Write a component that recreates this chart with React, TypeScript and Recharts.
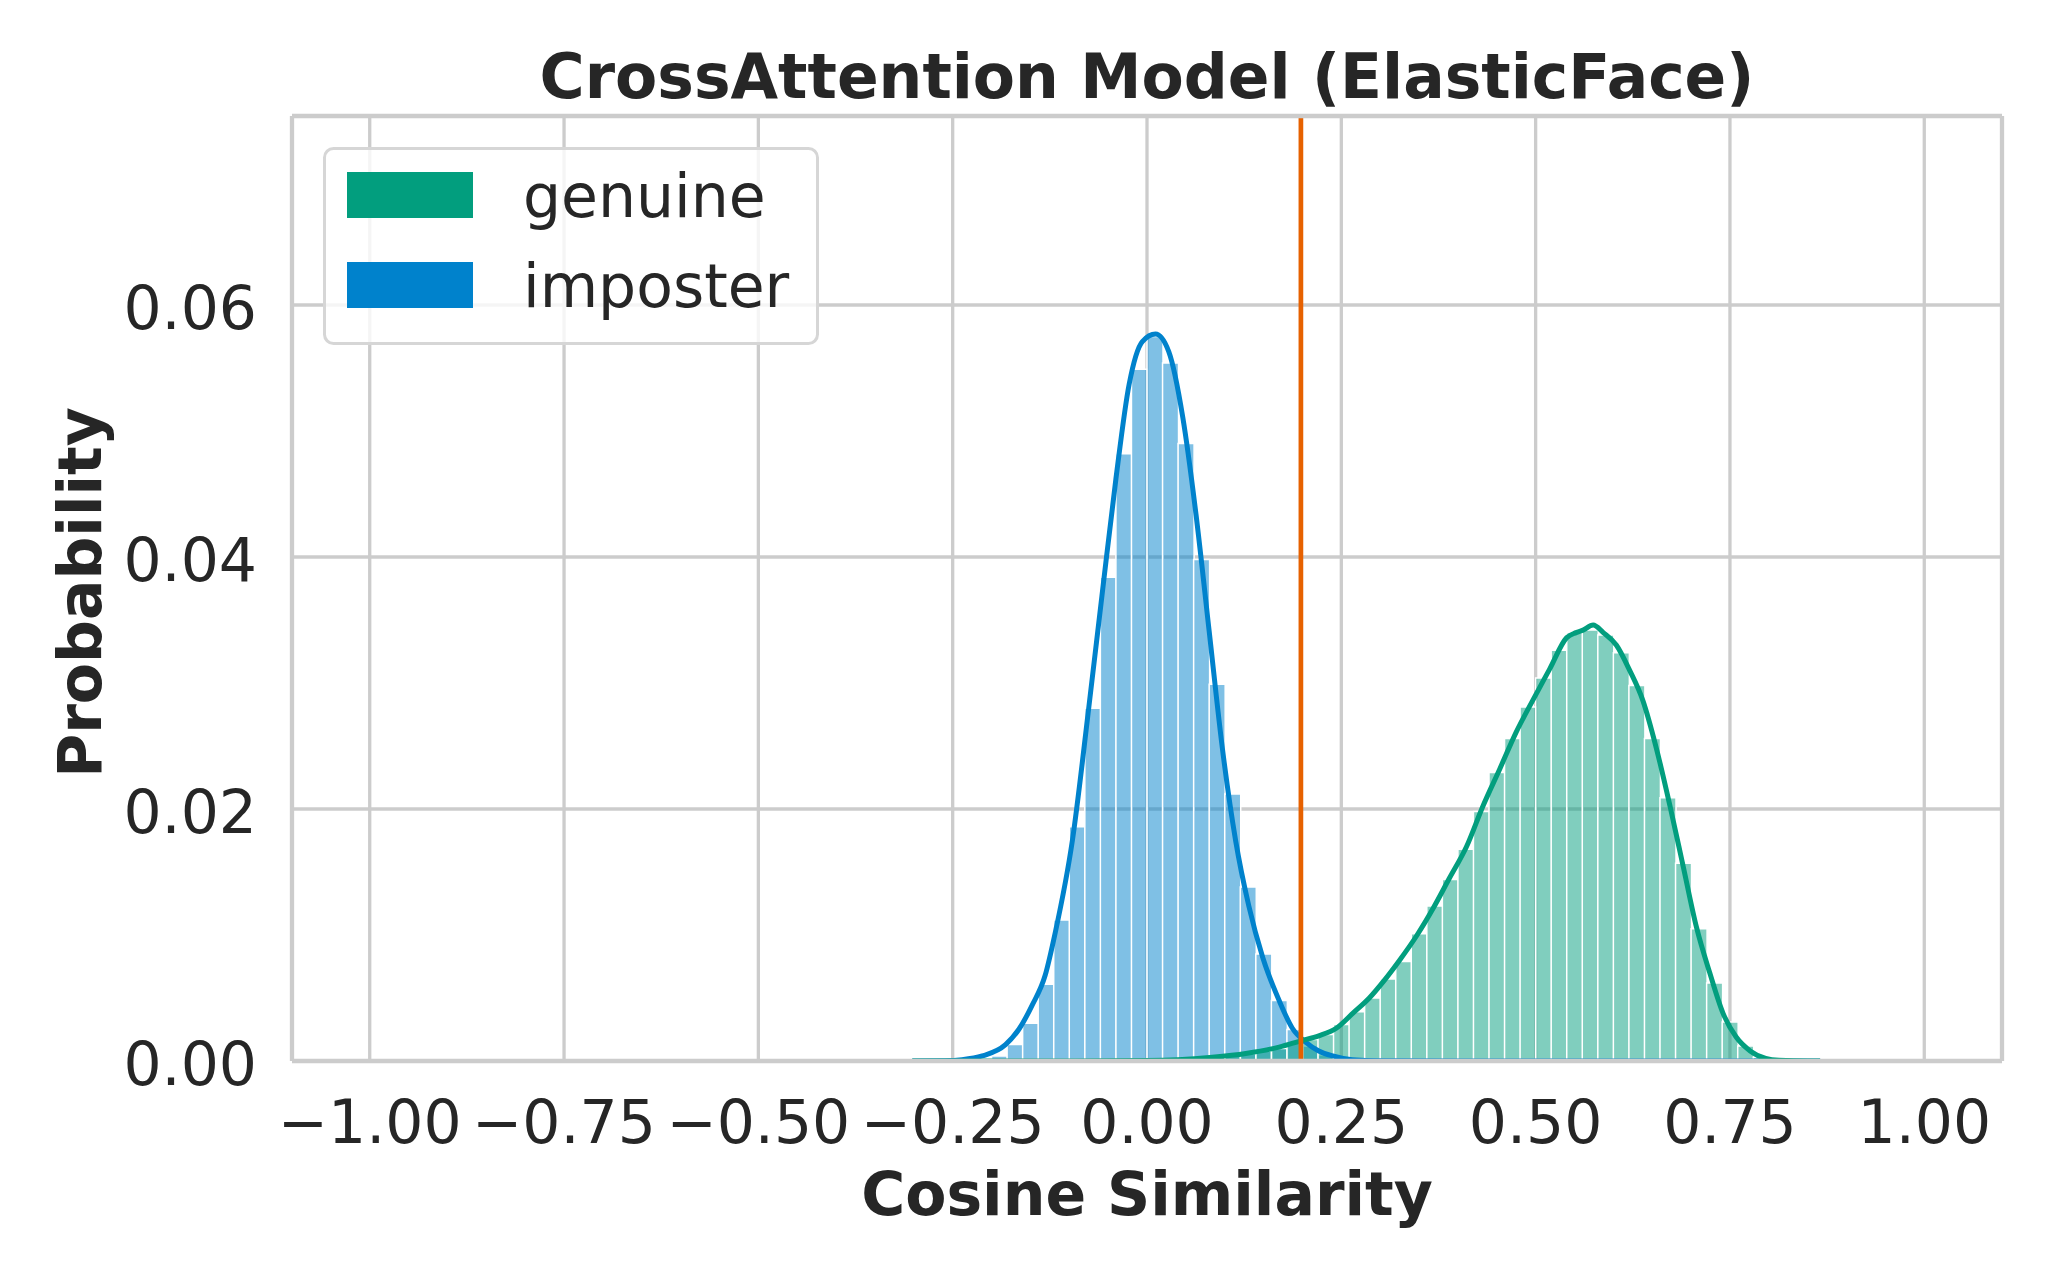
import {
  Bar,
  CartesianGrid,
  ComposedChart,
  Legend,
  Line,
  ReferenceLine,
  XAxis,
  YAxis,
} from 'recharts'

// histogram bins (width 0.02), probability per bin
const BIN_CENTERS = [
  -0.21, -0.19, -0.17, -0.15, -0.13, -0.11, -0.09, -0.07, -0.05, -0.03, -0.01, 0.01, 0.03, 0.05, 0.07,
  0.09, 0.11, 0.13, 0.15, 0.17, 0.19, 0.21, 0.23, 0.25, 0.27, 0.29, 0.31, 0.33, 0.35, 0.37, 0.39, 0.41,
  0.43, 0.45, 0.47, 0.49, 0.51, 0.53, 0.55, 0.57, 0.59, 0.61, 0.63, 0.65, 0.67, 0.69, 0.71, 0.73, 0.75,
  0.77, 0.79, 0.81,
]

const IMPOSTER_PROB = [
  0.0001, 0.0004, 0.0013, 0.003, 0.0061, 0.0112, 0.0186, 0.028, 0.0384, 0.0482, 0.0549, 0.0575, 0.0554,
  0.049, 0.0398, 0.0299, 0.0212, 0.0138, 0.0085, 0.0048, 0.0025, 0.0012, 0.0005, 0.0002, 0.0001, 0, 0, 0,
  0, 0, 0, 0, 0, 0, 0, 0, 0, 0, 0, 0, 0, 0, 0, 0, 0, 0, 0, 0, 0, 0, 0, 0,
]

const GENUINE_PROB = [
  0, 0, 0, 0, 0, 0, 0, 0, 0, 0, 0, 0, 0.0001, 0.0001, 0.0002, 0.0003, 0.0004, 0.0006, 0.0008, 0.001,
  0.0014, 0.0017, 0.0021, 0.0029, 0.0039, 0.005, 0.0065, 0.0079, 0.0101, 0.0123, 0.0144, 0.0168, 0.0198,
  0.0229, 0.0256, 0.0281, 0.0304, 0.0326, 0.034, 0.0342, 0.0338, 0.0324, 0.0298, 0.0256, 0.0209, 0.0157,
  0.0105, 0.0062, 0.0031, 0.0012, 0.0003, 0.0001,
]

// kde curves
const IMPOSTER_KDE_X = [
  -0.302, -0.26, -0.238, -0.212, -0.182, -0.165, -0.148, -0.131, -0.118, -0.096, -0.075, -0.058, -0.04,
  -0.023, -0.006, 0.011, 0.028, 0.046, 0.063, 0.08, 0.097, 0.114, 0.131, 0.149, 0.17, 0.187, 0.204, 0.221,
  0.239, 0.264, 0.3, 0.4, 0.866,
]
const IMPOSTER_KDE_Y = [
  0, 0.00002, 0.0001, 0.0004, 0.0013, 0.0025, 0.0044, 0.0068, 0.0102, 0.0175, 0.028, 0.0369, 0.0462,
  0.0537, 0.0571, 0.0577, 0.0563, 0.0511, 0.0434, 0.0341, 0.0248, 0.0175, 0.0123, 0.0082, 0.0048, 0.0026,
  0.0015, 0.0008, 0.0004, 0.0001, 0.00002, 0, 0,
]

const GENUINE_KDE_X = [
  -0.302, -0.1, 0, 0.04, 0.084, 0.127, 0.17, 0.198, 0.221, 0.2435, 0.265, 0.286, 0.304, 0.325, 0.3465,
  0.368, 0.389, 0.411, 0.432, 0.454, 0.475, 0.497, 0.518, 0.54, 0.552, 0.561, 0.574, 0.587, 0.604, 0.621,
  0.638, 0.655, 0.673, 0.69, 0.707, 0.724, 0.741, 0.758, 0.776, 0.796, 0.813, 0.85, 0.866,
]
const GENUINE_KDE_Y = [
  0, 0, 0.00003, 0.0001, 0.0003, 0.0006, 0.0011, 0.0016, 0.002, 0.0026, 0.0038, 0.005, 0.0063, 0.008,
  0.0099, 0.0121, 0.0145, 0.017, 0.0202, 0.0232, 0.0261, 0.0287, 0.0311, 0.0336, 0.034, 0.0342, 0.0346,
  0.034, 0.033, 0.031, 0.0286, 0.0249, 0.0202, 0.0154, 0.0106, 0.007, 0.0038, 0.0019, 0.0008, 0.0002,
  0.00005, 0, 0,
]

const X_TICKS = [-1, -0.75, -0.5, -0.25, 0, 0.25, 0.5, 0.75, 1]
const Y_TICKS = [0, 0.02, 0.04, 0.06]
const THRESHOLD = 0.198
const SERIES_NAMES = ['genuine', 'imposter']

const GREEN = '#029e7e'
const BLUE = '#0082cc'
const ORANGE = '#e66100'
const GRID = '#cccccc'
const TEXT = '#262626'
const X_DOMAIN: [number, number] = [-1.1, 1.1]
const Y_DOMAIN: [number, number] = [0, 0.075]

const histData = BIN_CENTERS.map((bin, i) => ({
  bin,
  genuine: GENUINE_PROB[i],
  imposter: IMPOSTER_PROB[i],
}))
const imposterKde = IMPOSTER_KDE_X.map((x, i) => ({ x, y: IMPOSTER_KDE_Y[i] }))
const genuineKde = GENUINE_KDE_X.map((x, i) => ({ x, y: GENUINE_KDE_Y[i] }))

const formatX = (v: number) => (v < 0 ? '\u2212' : '') + Math.abs(v).toFixed(2)
const formatY = (v: number) => v.toFixed(2)

function LegendBox() {
  const colors = [GREEN, BLUE]
  return (
    <svg width={496} height={198} style={{ display: 'block' }}>
      <rect x={1.5} y={1.5} width={493} height={195} rx={9} fill="#ffffff" fillOpacity={0.8} stroke="#d6d6d6" strokeWidth={3} />
      {SERIES_NAMES.map((name, i) => (
        <g key={name}>
          <rect x={24} y={25 + i * 90} width={126} height={46} fill={colors[i]} />
          <text x={200} y={70 + i * 90} fontSize={60} fill={TEXT}>
            {name}
          </text>
        </g>
      ))}
    </svg>
  )
}

function YAxisTitle({ viewBox }: { viewBox?: { x: number; y: number; width: number; height: number } }) {
  if (!viewBox) return null
  const cx = viewBox.x + 80
  const cy = viewBox.y + viewBox.height / 2 + 4
  return (
    <text
      x={cx}
      y={cy}
      dy="0.355em"
      transform={`rotate(-90 ${cx} ${cy})`}
      textAnchor="middle"
      fill={TEXT}
      fontSize={60}
      fontWeight={700}
    >
      Probability
    </text>
  )
}

export default function App() {
  const xTick = { fill: TEXT, fontSize: 60 }
  const yTick = { fill: TEXT, fontSize: 60, dy: 3 }
  const spine = { stroke: GRID, strokeWidth: 4.3 }

  return (
    <div
      style={{
        position: 'absolute',
        left: 0,
        top: 0,
        width: 2048,
        height: 1280,
        background: '#ffffff',
        fontFamily: '"DejaVu Sans", sans-serif',
      }}
    >
      <ComposedChart
        width={2048}
        height={1280}
        data={histData}
        margin={{ top: 0, right: 0, bottom: 0, left: 0 }}
        barCategoryGap={0}
        barGap={0}
      >
        <CartesianGrid stroke={GRID} strokeWidth={3.3} />
        <XAxis
          dataKey="bin"
          type="number"
          domain={X_DOMAIN}
          ticks={X_TICKS}
          allowDataOverflow
          height={219}
          tickFormatter={formatX}
          tick={xTick}
          tickLine={false}
          tickSize={0}
          tickMargin={39}
          axisLine={spine}
          label={{
            value: 'Cosine Similarity',
            position: 'insideTop',
            offset: 111,
            style: { fill: TEXT, fontSize: 60, fontWeight: 700 },
          }}
        />
        <XAxis
          xAxisId="top"
          orientation="top"
          dataKey="bin"
          type="number"
          domain={X_DOMAIN}
          allowDataOverflow
          height={116}
          tick={false}
          tickLine={false}
          axisLine={spine}
          label={{
            value: 'CrossAttention Model (ElasticFace)',
            position: 'insideTop',
            offset: 54,
            style: { fill: TEXT, fontSize: 61.5, fontWeight: 700 },
          }}
        />
        <XAxis xAxisId="g" dataKey="bin" type="number" domain={X_DOMAIN} allowDataOverflow hide />
        <XAxis xAxisId="kde" dataKey="x" type="number" domain={X_DOMAIN} allowDataOverflow hide />
        <YAxis
          type="number"
          domain={Y_DOMAIN}
          ticks={Y_TICKS}
          allowDataOverflow
          width={292}
          tickFormatter={formatY}
          tick={yTick}
          tickLine={false}
          tickSize={0}
          tickMargin={35}
          axisLine={spine}
          label={{ content: YAxisTitle }}
        />
        <YAxis
          yAxisId="right"
          orientation="right"
          type="number"
          domain={Y_DOMAIN}
          width={46}
          tick={false}
          tickLine={false}
          axisLine={spine}
        />
        <Legend
          layout="horizontal"
          verticalAlign="middle"
          align="center"
          content={() => <LegendBox />}
          wrapperStyle={{ left: 323, top: 147, width: 496, height: 198 }}
        />
        <Bar
          dataKey="imposter"
          name="imposter"
          fill={BLUE}
          fillOpacity={0.5}
          stroke="#ffffff"
          strokeWidth={1.5}
          isAnimationActive={false}
        />
        <Bar
          xAxisId="g"
          dataKey="genuine"
          name="genuine"
          fill={GREEN}
          fillOpacity={0.5}
          stroke="#ffffff"
          strokeWidth={1.5}
          isAnimationActive={false}
        />
        <Line
          xAxisId="kde"
          data={imposterKde}
          dataKey="y"
          type="monotone"
          stroke={BLUE}
          strokeWidth={5}
          dot={false}
          activeDot={false}
          legendType="none"
          isAnimationActive={false}
        />
        <Line
          xAxisId="kde"
          data={genuineKde}
          dataKey="y"
          type="monotone"
          stroke={GREEN}
          strokeWidth={5}
          dot={false}
          activeDot={false}
          legendType="none"
          isAnimationActive={false}
        />
        <ReferenceLine x={THRESHOLD} stroke={ORANGE} strokeWidth={4.7} />
      </ComposedChart>
    </div>
  )
}
